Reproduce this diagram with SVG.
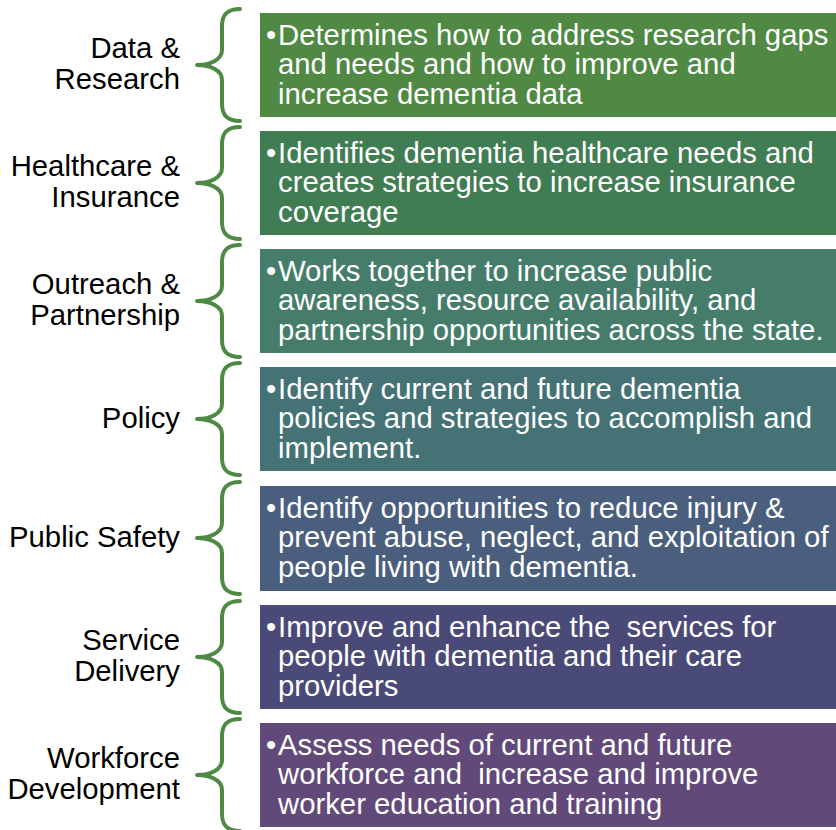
<svg xmlns="http://www.w3.org/2000/svg" width="836" height="830" viewBox="0 0 836 830">
<style>
.lbl{font-family:"Liberation Sans",Arial,sans-serif;font-size:29.3px;fill:#000;text-anchor:end}
.txt{font-family:"Liberation Sans",Arial,sans-serif;font-size:29.3px;fill:#fff;white-space:pre}
.brace{fill:none;stroke:#4e8a43;stroke-width:4;stroke-linecap:round;stroke-linejoin:round}
</style>
<defs>
<path id="br" class="brace" d="M240,0 C228,0 222,5 222,17 L222,41 C222,51 210,56 197,56 C210,56 222,61 222,71 L222,95 C222,107 228,112 240,112"/>
</defs>
<rect width="836" height="830" fill="#fff"/>
<g id="connectors">
<use href="#br" y="9"/>
<use href="#br" y="127"/>
<use href="#br" y="245"/>
<use href="#br" y="363"/>
<use href="#br" y="482"/>
<use href="#br" y="601"/>
<use href="#br" y="719"/>
</g>
<g id="row1">
<rect x="260" y="13" width="576" height="104" fill="#4f8944"/>
<text class="lbl" x="180" y="58">Data &amp;</text>
<text class="lbl" x="180" y="89">Research</text>
<text class="txt" x="266" y="44.5">•</text>
<text class="txt" x="278" y="44.5">Determines how to address research gaps</text>
<text class="txt" x="278" y="74">and needs and how to improve and</text>
<text class="txt" x="278" y="103.5">increase dementia data</text>
</g>
<g id="row2">
<rect x="260" y="131" width="576" height="104" fill="#417d53"/>
<text class="lbl" x="180" y="176">Healthcare &amp;</text>
<text class="lbl" x="180" y="207">Insurance</text>
<text class="txt" x="266" y="162.5">•</text>
<text class="txt" x="278" y="162.5">Identifies dementia healthcare needs and</text>
<text class="txt" x="278" y="192">creates strategies to increase insurance</text>
<text class="txt" x="278" y="221.5">coverage</text>
</g>
<g id="row3">
<rect x="260" y="249" width="576" height="104" fill="#457d6a"/>
<text class="lbl" x="180" y="294">Outreach &amp;</text>
<text class="lbl" x="180" y="325">Partnership</text>
<text class="txt" x="266" y="280.5">•</text>
<text class="txt" x="278" y="280.5">Works together to increase public</text>
<text class="txt" x="278" y="310">awareness, resource availability, and</text>
<text class="txt" x="278" y="339.5">partnership opportunities across the state.</text>
</g>
<g id="row4">
<rect x="260" y="367" width="576" height="104" fill="#447275"/>
<text class="lbl" x="180" y="428">Policy</text>
<text class="txt" x="266" y="398.5">•</text>
<text class="txt" x="278" y="398.5">Identify current and future dementia</text>
<text class="txt" x="278" y="428">policies and strategies to accomplish and</text>
<text class="txt" x="278" y="457.5">implement.</text>
</g>
<g id="row5">
<rect x="260" y="486" width="576" height="105" fill="#4a5e7e"/>
<text class="lbl" x="180" y="547">Public Safety</text>
<text class="txt" x="266" y="517.5">•</text>
<text class="txt" x="278" y="517.5">Identify opportunities to reduce injury &amp;</text>
<text class="txt" x="278" y="547">prevent abuse, neglect, and exploitation of</text>
<text class="txt" x="278" y="576.5">people living with dementia.</text>
</g>
<g id="row6">
<rect x="260" y="605" width="576" height="104" fill="#4a4a78"/>
<text class="lbl" x="180" y="650">Service</text>
<text class="lbl" x="180" y="681">Delivery</text>
<text class="txt" x="266" y="636.5">•</text>
<text class="txt" x="278" y="636.5">Improve and enhance the  services for</text>
<text class="txt" x="278" y="666">people with dementia and their care</text>
<text class="txt" x="278" y="695.5">providers</text>
</g>
<g id="row7">
<rect x="260" y="723" width="576" height="104" fill="#614a79"/>
<text class="lbl" x="180" y="768">Workforce</text>
<text class="lbl" x="180" y="799">Development</text>
<text class="txt" x="266" y="754.5">•</text>
<text class="txt" x="278" y="754.5">Assess needs of current and future</text>
<text class="txt" x="278" y="784">workforce and  increase and improve</text>
<text class="txt" x="278" y="813.5">worker education and training</text>
</g>
</svg>
